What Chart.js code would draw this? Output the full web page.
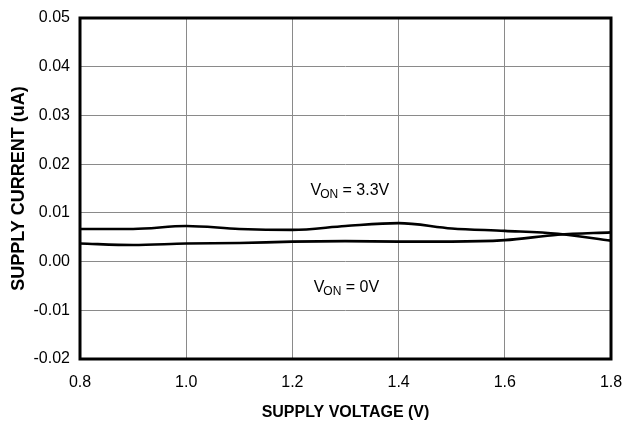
<!DOCTYPE html>
<html>
<head>
<meta charset="utf-8">
<script src="https://cdn.jsdelivr.net/npm/chart.js@4/dist/chart.umd.min.js"></script>
<style>
    html, body { margin: 0; padding: 0; background: #fff; }
    #wrap { width: 626px; height: 425px; }
</style>
</head>
<body>
<div id="wrap"><canvas id="supplyChart"></canvas></div>
<script>
// supply voltage (V)
const voltages = [0.8, 0.9, 1.0, 1.1, 1.2, 1.3, 1.4, 1.5, 1.6, 1.7, 1.8];
// supply current (uA)
const currentVon33 = [0.0067, 0.0067, 0.0073, 0.0067, 0.0065, 0.0073, 0.0079, 0.0068, 0.0063, 0.0057, 0.0043];
const currentVon0 = [0.0037, 0.0034, 0.0037, 0.0038, 0.0041, 0.0042, 0.0041, 0.0041, 0.0044, 0.0055, 0.0060];
const xTicks = [0.8, 1.0, 1.2, 1.4, 1.6, 1.8];
const yTicks = [-0.02, -0.01, 0.0, 0.01, 0.02, 0.03, 0.04, 0.05];
// labels: [main, subscript, rest, x, y]
const labels = [
    ["V", "ON", " = 3.3V", 1.234, 0.0137],
    ["V", "ON", " = 0V", 1.24, -0.0063],
];

const FONT = "'Liberation Sans', Arial, sans-serif";
Chart.defaults.font.family = FONT;
Chart.defaults.color = "#000";

function toPoints(ys) {
    return voltages.map((v, i) => ({ x: v, y: ys[i] }));
}

const framePlugin = {
    id: "frame",
    afterDraw(chart) {
        const { ctx, chartArea: a, scales } = chart;
        ctx.save();
        ctx.strokeStyle = "#000";
        ctx.lineWidth = 3;
        ctx.strokeRect(a.left, a.top, a.right - a.left, a.bottom - a.top);

        ctx.fillStyle = "#000";
        ctx.textBaseline = "alphabetic";
        labels.forEach(([main, sub, rest, lx, ly]) => {
            let x = scales.x.getPixelForValue(lx);
            const y = scales.y.getPixelForValue(ly);
            ctx.font = "16px " + FONT;
            ctx.fillText(main, x, y);
            x += ctx.measureText(main).width - 1;
            ctx.font = "12px " + FONT;
            ctx.fillText(sub, x, y + 3);
            x += ctx.measureText(sub).width;
            ctx.font = "16px " + FONT;
            ctx.fillText(rest, x, y);
        });
        ctx.restore();
    },
};

new Chart(document.getElementById("supplyChart"), {
    type: "line",
    data: {
        datasets: [
            {
                label: "VON = 3.3V",
                data: toPoints(currentVon33),
                borderColor: "#000",
                borderWidth: 2.6,
                pointRadius: 0,
                cubicInterpolationMode: "monotone",
                fill: false,
            },
            {
                label: "VON = 0V",
                data: toPoints(currentVon0),
                borderColor: "#000",
                borderWidth: 2.6,
                pointRadius: 0,
                cubicInterpolationMode: "monotone",
                fill: false,
            },
        ],
    },
    options: {
        responsive: true,
        maintainAspectRatio: false,
        animation: false,
        layout: { padding: { top: 18, right: 15, bottom: 0, left: 0 } },
        plugins: {
            legend: { display: false },
            tooltip: { enabled: false },
        },
        scales: {
            x: {
                type: "linear",
                min: 0.8,
                max: 1.8,
                afterFit(scale) {
                    scale.height = 66;
                    scale.paddingLeft = 0;
                    scale.paddingRight = 0;
                },
                afterBuildTicks(scale) {
                    scale.ticks = xTicks.map((v) => ({ value: v }));
                },
                ticks: {
                    padding: 14,
                    font: { size: 16 },
                    callback: (v) => Number(v).toFixed(1),
                },
                grid: { color: "#8a8a8a", lineWidth: 1, drawTicks: false },
                border: { display: false },
                title: {
                    display: true,
                    text: "SUPPLY VOLTAGE (V)",
                    font: { size: 16, weight: "bold" },
                    padding: { top: 0, bottom: 2.4 },
                },
            },
            y: {
                min: -0.02,
                max: 0.05,
                afterFit(scale) {
                    scale.width = 80;
                    scale.paddingTop = 0;
                    scale.paddingBottom = 0;
                },
                afterBuildTicks(scale) {
                    scale.ticks = yTicks.map((v) => ({ value: v }));
                },
                ticks: {
                    padding: 10,
                    font: { size: 16 },
                    callback: (v) => Number(v).toFixed(2),
                },
                grid: { color: "#8a8a8a", lineWidth: 1, drawTicks: false },
                border: { display: false },
                title: {
                    display: true,
                    text: "SUPPLY CURRENT (uA)",
                    font: { size: 18, weight: "bold" },
                    padding: { top: 8.7, bottom: 0 },
                },
            },
        },
    },
    plugins: [framePlugin],
});
</script>
</body>
</html>
